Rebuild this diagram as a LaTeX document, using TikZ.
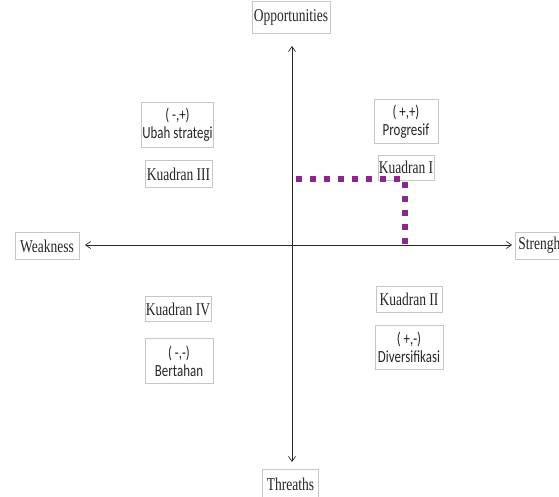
\documentclass[tikz,border=0pt]{standalone}
\usepackage{fontspec}
\setmainfont[FakeStretch=0.75]{Liberation Serif}
\newfontfamily\carl[FakeStretch=0.76]{Carlito}
\usetikzlibrary{arrows.meta}
\definecolor{pathpurple}{RGB}{140,40,140}
\begin{document}
\begin{tikzpicture}[x=1pt,y=-1pt,
  lbl/.style={draw=gray!45, line width=0.5pt, inner sep=1pt, font=\fontsize{18}{20}\selectfont, text=black!85},
  qbox/.style={draw=gray!45, line width=0.5pt, inner sep=1pt, align=center, font=\carl\fontsize{17}{18}\selectfont, text=black!85},
  axis/.style={line width=0.7pt, black!85, -{Straight Barb[length=5pt,width=7pt]}},
  dotpath/.style={draw=pathpurple, line width=6pt, dash pattern=on 6pt off 8pt}
]
\useasboundingbox (0,0) rectangle (559,497);
\fill[white] (0,0) rectangle (559,497);
\coordinate (O) at (292,245);
\coordinate (T) at (292,46);
\coordinate (B) at (292,462);
\coordinate (L) at (85,245);
\coordinate (R) at (512,245);
\draw[axis] (O) -- (T);
\draw[axis] (O) -- (B);
\draw[axis] (O) -- (L);
\draw[axis] (O) -- (R);

\node[lbl, minimum width=78pt, minimum height=32pt] (opp) at (291,17) {Opportunities};
\node[lbl, minimum width=64pt, minimum height=27pt] (weak) at (47,246) {Weakness};
\node[lbl, minimum width=48pt, minimum height=27pt, anchor=west] (str) at (515,245.5) {Strengh};
\node[lbl, minimum width=56pt, minimum height=30pt] (thr) at (290.5,484) {Threaths};

\node[qbox, minimum width=71pt, minimum height=45pt] (q3t) at (177.5,125) {(\,-,+)\\Ubah strategi};
\node[lbl, minimum width=67pt, minimum height=27pt] (q3) at (178.5,174) {Kuadran III};

\node[qbox, minimum width=64pt, minimum height=44pt] (q1t) at (406,121.5) {(\,+,+)\\Progresif};
\node[lbl, minimum width=56pt, minimum height=25pt] (q1) at (406,167.5) {Kuadran I};

\node[lbl, minimum width=66pt, minimum height=26pt] (q2) at (409,299) {Kuadran II};
\node[qbox, minimum width=68pt, minimum height=44pt] (q2t) at (409,347.5) {(\,+,-)\\Diversifikasi};

\node[lbl, minimum width=66pt, minimum height=25pt] (q4) at (178,309) {Kuadran IV};
\node[qbox, minimum width=68pt, minimum height=45pt] (q4t) at (179,361) {(\,-,-)\\Bertahan};

\coordinate (p0) at (296,179);
\coordinate (pc) at (405,179);
\coordinate (p1) at (405,245);
\draw[dotpath] (p0) -- (pc) -- (p1);
\end{tikzpicture}
\end{document}
